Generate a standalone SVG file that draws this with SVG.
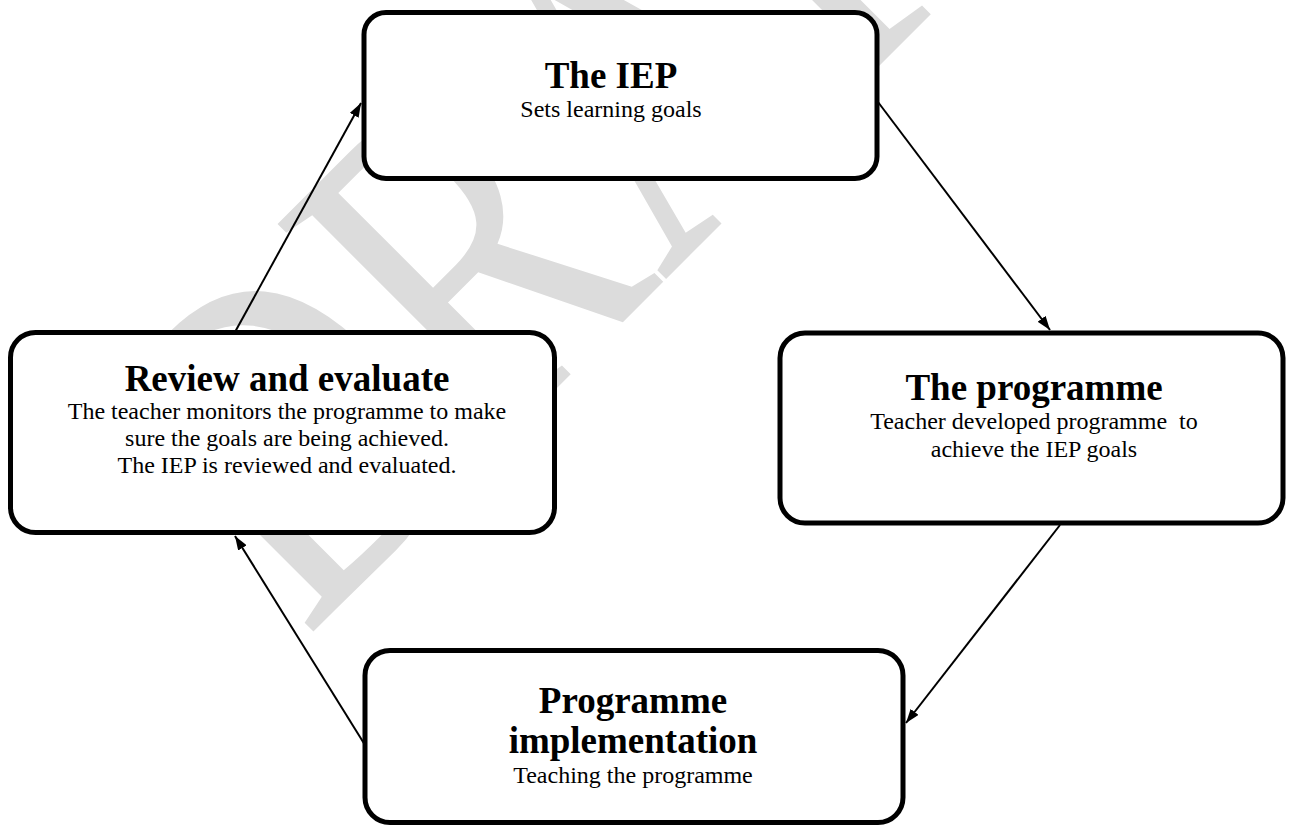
<svg xmlns="http://www.w3.org/2000/svg" width="1292" height="827" viewBox="0 0 1292 827">
<style>
.box{fill:#fff;stroke:#000;stroke-width:5}
.t{font-family:"Liberation Serif","Times New Roman",serif;font-weight:bold;font-size:37px;text-anchor:middle;fill:#000}
.b{font-family:"Liberation Serif","Times New Roman",serif;font-size:24px;text-anchor:middle;fill:#000;white-space:pre}
.c{stroke:#000;stroke-width:2;fill:none;marker-end:url(#ah)}
.wm{font-family:"Liberation Serif","Times New Roman",serif;font-size:479px;fill:#dcdcdc}
</style>
<defs>
<marker id="ah" markerUnits="userSpaceOnUse" markerWidth="14" markerHeight="10" refX="14" refY="5" orient="auto">
<path d="M0,0 L14,5 L0,10 z" fill="#000"/>
</marker>
</defs>
<rect width="1292" height="827" fill="#fff"/>
<text class="wm" transform="translate(306,639) rotate(-45) scale(0.76,1)">DRAFT</text>
<g id="connectors">
<line class="c" x1="878" y1="102" x2="1050" y2="330"/>
<line class="c" x1="1060" y1="525" x2="906" y2="723"/>
<line class="c" x1="365" y1="745" x2="235" y2="536"/>
<line class="c" x1="235" y1="332" x2="361" y2="103"/>
</g>
<g id="node-iep">
<rect class="box" x="364" y="12.5" width="513" height="166" rx="22"/>
<text class="t" x="611" y="88">The IEP</text>
<text class="b" x="611" y="117">Sets learning goals</text>
</g>
<g id="node-programme">
<rect class="box" x="780" y="333" width="503" height="190" rx="25"/>
<text class="t" x="1034" y="400">The programme</text>
<text class="b" x="1034" y="429" xml:space="preserve">Teacher developed programme  to</text>
<text class="b" x="1034" y="457">achieve the IEP goals</text>
</g>
<g id="node-implementation">
<rect class="box" x="365" y="650.5" width="538" height="172" rx="25"/>
<text class="t" x="633" y="713">Programme</text>
<text class="t" x="633" y="753">implementation</text>
<text class="b" x="633" y="783">Teaching the programme</text>
</g>
<g id="node-review">
<rect class="box" x="10.5" y="332.5" width="544" height="200" rx="25"/>
<text class="t" x="287" y="391">Review and evaluate</text>
<text class="b" x="287" y="419">The teacher monitors the programme to make</text>
<text class="b" x="287" y="446">sure the goals are being achieved.</text>
<text class="b" x="287" y="473">The IEP is reviewed and evaluated.</text>
</g>
</svg>
